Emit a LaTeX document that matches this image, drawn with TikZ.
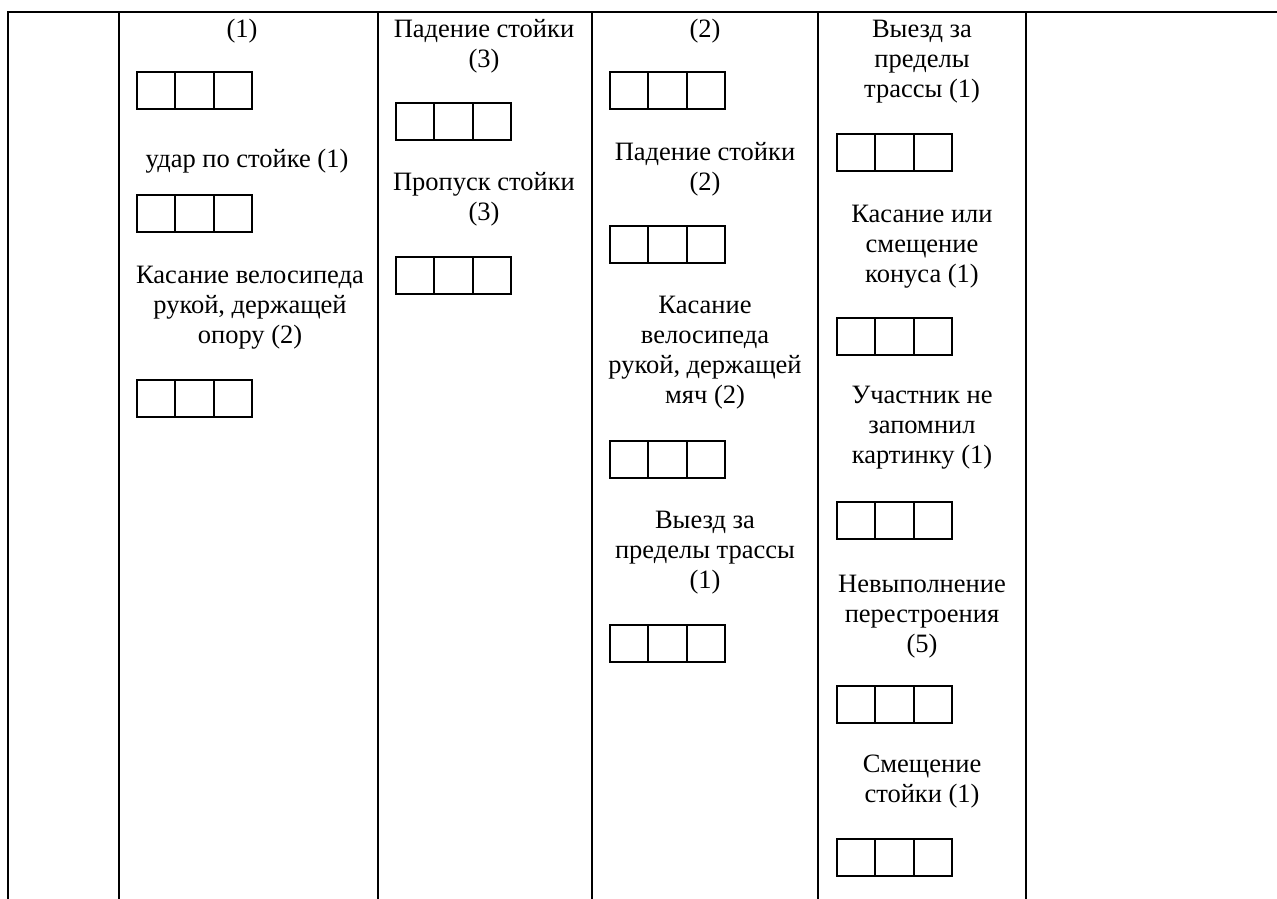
\documentclass[tikz,border=0pt]{standalone}
\usepackage{fontspec}
\setmainfont{Liberation Serif}
\newcommand{\labfont}{\fontsize{26.5}{30}\selectfont}
\newcommand{\sline}{\strut}
\tikzset{
  grid line/.style={line width=2pt, line cap=rect},
  lbl/.style={anchor=north, inner sep=0pt, align=center, font=\labfont},
  cells/.pic={
    \draw[line width=1.8pt] (0,0) rectangle (115,37);
    \draw[line width=1.8pt] (38.33,0) -- (38.33,37);
    \draw[line width=1.8pt] (76.67,0) -- (76.67,37);
  }
}
\begin{document}
\begin{tikzpicture}[x=1pt,y=-1pt]
\useasboundingbox (0,0) rectangle (1277,899);
% table frame
\coordinate (tl) at (8,12);
\coordinate (tr) at (1277,12);
\draw[grid line] (tl) -- (tr);
\foreach \cx/\nm in {8/c0,119/c1,378/c2,592/c3,818/c4,1026/c5}{
  \coordinate (\nm top) at (\cx,12);
  \coordinate (\nm bot) at (\cx,899);
  \draw[line width=2pt] (\nm top) -- (\nm bot);
}
% strut height = 0.7*30 = 21
% column 1
\node[lbl] (a1) at (242,37-21) {\sline(1)};
\pic at (137,72) {cells};
\node[lbl] (a2) at (247,167-21) {\sline удар по стойке (1)};
\pic at (137,195) {cells};
\node[lbl] (a3) at (250,283-21) {\sline Касание велосипеда\\\sline рукой, держащей\\\sline опору (2)};
\pic at (137,380) {cells};
% column 2
\node[lbl] (b1) at (484,37-21) {\sline Падение стойки\\\sline(3)};
\pic at (396,103) {cells};
\node[lbl] (b2) at (484,190-21) {\sline Пропуск стойки\\\sline(3)};
\pic at (396,257) {cells};
% column 3
\node[lbl] (d1) at (705,37-21) {\sline(2)};
\pic at (610,72) {cells};
\node[lbl] (d2) at (705,160-21) {\sline Падение стойки\\\sline(2)};
\pic at (610,226) {cells};
\node[lbl] (d3) at (705,313-21) {\sline Касание\\\sline велосипеда\\\sline рукой, держащей\\\sline мяч (2)};
\pic at (610,441) {cells};
\node[lbl] (d4) at (705,528-21) {\sline Выезд за\\\sline пределы трассы\\\sline(1)};
\pic at (610,625) {cells};
% column 4
\node[lbl] (e1) at (922,37-21) {\sline Выезд за\\\sline пределы\\\sline трассы (1)};
\pic at (837,134) {cells};
\node[lbl] (e2) at (922,222-21) {\sline Касание или\\\sline смещение\\\sline конуса (1)};
\pic at (837,318) {cells};
\node[lbl] (e3) at (922,403-21) {\sline Участник не\\\sline запомнил\\\sline картинку (1)};
\pic at (837,502) {cells};
\node[lbl] (e4) at (922,592-21) {\sline Невыполнение\\\sline перестроения\\\sline(5)};
\pic at (837,686) {cells};
\node[lbl] (e5) at (922,772-21) {\sline Смещение\\\sline стойки (1)};
\pic at (837,839) {cells};
\end{tikzpicture}
\end{document}
